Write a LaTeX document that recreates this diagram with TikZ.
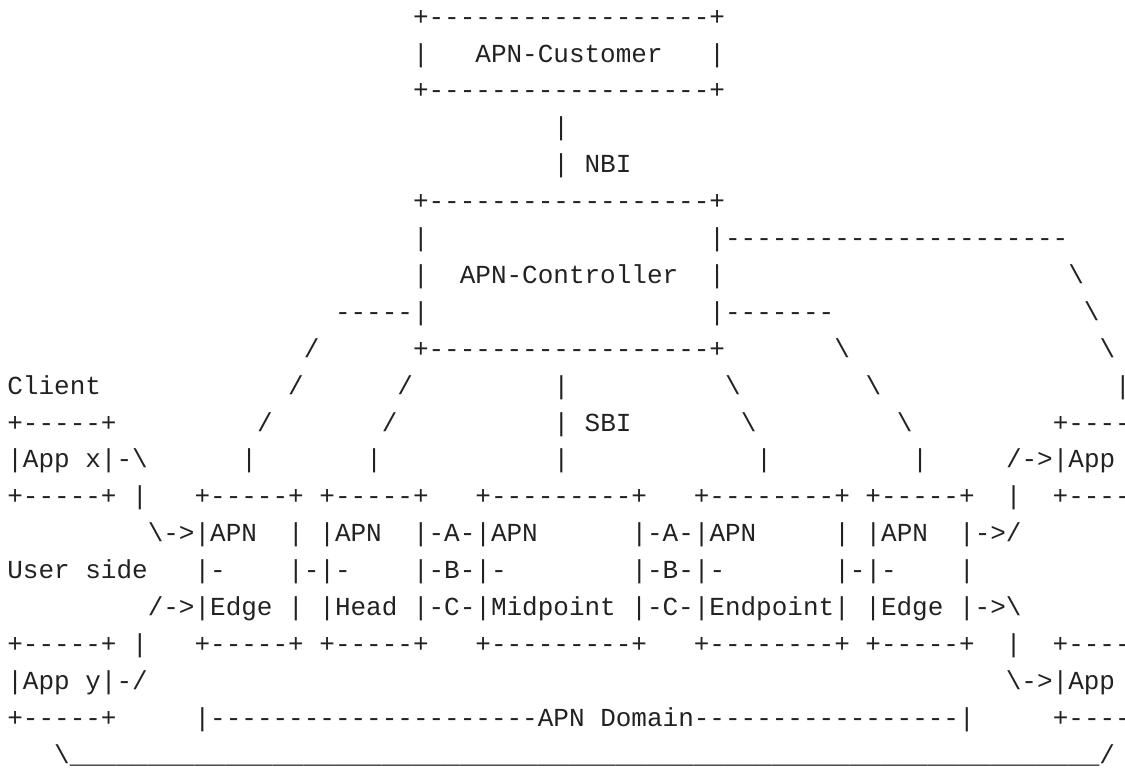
\documentclass[tikz,border=0pt]{standalone}
\usepackage{fontspec}
\setmonofont{Liberation Mono}
\ExplSyntaxOn
\cs_new:Npn \rpt #1#2 { \prg_replicate:nn {#1} {#2} }
\ExplSyntaxOff
\newcommand{\bsl}{\textbackslash}
\newcommand{\rimrow}{+\rpt{5}{-}+~|~~~+\rpt{5}{-}+~+\rpt{5}{-}+~~~+\rpt{9}{-}+~~~+\rpt{8}{-}+~+\rpt{5}{-}+~~|~~+\rpt{4}{-}}
\definecolor{ink}{HTML}{222222}
\tikzset{row/.style={anchor=base west, inner sep=0pt, text=ink, font=\ttfamily\fontsize{26}{30}\selectfont}}
\begin{document}
\begin{tikzpicture}[x=15.6pt,y=-36.9pt]
% one column = 15.6pt, one text line = 36.9pt
\useasboundingbox (-0.46,-0.68) rectangle (71.65,20.14);
\clip (-0.46,-0.68) rectangle (71.65,20.14);
% customer and controller
\node[row] (custtop) at (26,0) {+\rpt{18}{-}+};
\node[row] (cust) at (26,1) {|~~~APN-Customer~~~|};
\node[row] (custbot) at (26,2) {+\rpt{18}{-}+};
\node[row] (nbi1) at (35,3) {|};
\node[row] (nbi) at (35,4) {|~NBI};
\node[row] (ctrltop) at (26,5) {+\rpt{18}{-}+};
\node[row] (ctrl1) at (26,6) {|\rpt{18}{~}|\rpt{22}{-}};
\node[row] (ctrl) at (26,7) {|~~APN-Controller~~|\rpt{22}{~}\bsl};
\node[row] (ctrl3) at (21,8) {\rpt{5}{-}|\rpt{18}{~}|\rpt{7}{-}\rpt{16}{~}\bsl};
\node[row] (ctrlbot) at (19,9) {/\rpt{6}{~}+\rpt{18}{-}+\rpt{7}{~}\bsl\rpt{16}{~}\bsl};
% south-bound links
\node[row] (client) at (0,10) {Client\rpt{12}{~}/\rpt{6}{~}/\rpt{9}{~}|\rpt{10}{~}\bsl\rpt{8}{~}\bsl\rpt{15}{~}|};
\node[row] (sbi) at (0,11) {+\rpt{5}{-}+\rpt{9}{~}/\rpt{7}{~}/\rpt{10}{~}|~SBI\rpt{7}{~}\bsl\rpt{9}{~}\bsl\rpt{9}{~}+\rpt{4}{-}};
\node[row] (appx) at (0,12) {|App~x|-\bsl\rpt{6}{~}|\rpt{7}{~}|\rpt{11}{~}|\rpt{12}{~}|\rpt{9}{~}|\rpt{5}{~}/->|App};
% APN nodes
\node[row] (nodetop) at (0,13) {\rimrow};
\node[row] (apn) at (9,14) {\bsl->|APN~~|~|APN~~|-A-|APN\rpt{6}{~}|-A-|APN\rpt{5}{~}|~|APN~~|->/};
\node[row] (user) at (0,15) {User~side~~~|-~~~~|-|-~~~~|-B-|-\rpt{8}{~}|-B-|-\rpt{7}{~}|-|-~~~~|};
\node[row] (role) at (9,16) {/->|Edge~|~|Head~|-C-|Midpoint~|-C-|Endpoint|~|Edge~|->\bsl};
\node[row] (nodebot) at (0,17) {\rimrow};
\node[row] (appy) at (0,18) {|App~y|-/};
\node[row] (appz) at (64,18) {\bsl->|App};
\node[row] (domain) at (0,19) {+\rpt{5}{-}+\rpt{5}{~}|\rpt{21}{-}APN~Domain\rpt{17}{-}|\rpt{5}{~}+\rpt{4}{-}};
\node[row] (loop) at (3,20) {\bsl\rpt{66}{\_}/};
\end{tikzpicture}
\end{document}
